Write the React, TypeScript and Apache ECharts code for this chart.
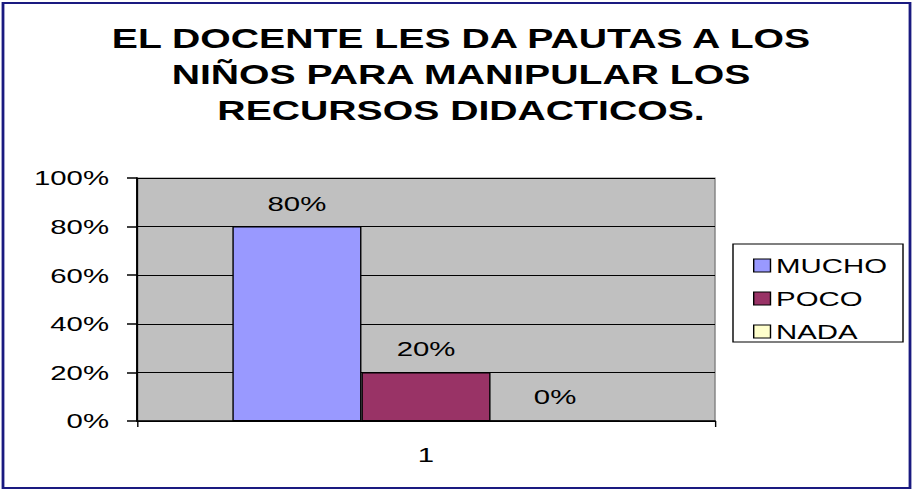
import React, { useEffect, useRef } from "react";
import * as echarts from "echarts";

const titleLines = ["EL DOCENTE LES DA PAUTAS A LOS", "NIÑOS PARA MANIPULAR LOS", "RECURSOS DIDACTICOS."];
const categories = ["1"];
const seriesNames = ["MUCHO", "POCO", "NADA"];
const seriesValues = [[80], [20], [0]];
const seriesColors = ["#9999FF", "#993366", "#FFFFCC"];

const OUT_W = 915;
const IN_W = 654;
const SX = OUT_W / IN_W;
const px = (v: number) => v / SX;

export default function App() {
  const ref = useRef<HTMLDivElement>(null);
  useEffect(() => {
    document.body.style.margin = "0";
    const chart = echarts.init(ref.current!, null, { renderer: "svg" });
    const font = "'Liberation Sans', Arial, sans-serif";
    chart.setOption({
      animation: false,
      backgroundColor: "#ffffff",
      textStyle: { fontFamily: font },
      title: {
        text: titleLines.join("\n"),
        left: px(454),
        textAlign: "center",
        top: 15,
        textStyle: { fontSize: 28, fontWeight: "bold", color: "#000", lineHeight: 36, fontFamily: font },
      },
      legend: {
        orient: "vertical",
        left: px(753),
        top: 255,
        padding: 0,
        itemWidth: 12,
        itemHeight: 13,
        itemGap: 12,
        icon: "rect",
        data: seriesNames.map((n, i) => ({ name: n, itemStyle: { color: seriesColors[i], borderColor: "#000", borderWidth: 1 } })),
        textStyle: { fontSize: 21, lineHeight: 21, color: "#000", fontFamily: font, padding: [0, 0, 0, -1] },
      },
      graphic: [
        { type: "rect", shape: { x: px(3), y: 3, width: px(907), height: 485 }, style: { fill: "none", stroke: "#1a1a80", lineWidth: 2 }, z: 100 },
        { type: "rect", shape: { x: px(733), y: 244, width: px(170), height: 98 }, style: { fill: "none", stroke: "#000", lineWidth: 1 } },
      ],
      grid: { left: px(137), right: px(200), top: 178, bottom: 72, show: true, backgroundColor: "#C0C0C0", borderColor: "#808080", borderWidth: 1 },
      xAxis: {
        type: "category",
        data: categories,
        axisLine: { lineStyle: { color: "#000", width: 1.5 } },
        axisTick: { show: true, length: 6, lineStyle: { color: "#000" } },
        axisLabel: { fontSize: 21, color: "#000", margin: 23, fontFamily: font },
      },
      yAxis: {
        type: "value",
        min: 0,
        max: 100,
        interval: 20,
        axisLine: { show: true, lineStyle: { color: "#000", width: 1.5 } },
        axisTick: { show: true, length: px(10), lineStyle: { color: "#000", width: 1.5 } },
        axisLabel: { formatter: "{value}%", fontSize: 21, color: "#000", margin: px(28), fontFamily: font },
        splitLine: { show: true, lineStyle: { color: "#000", width: 1.2 } },
      },
      series: seriesNames.map((n, i) => ({
        name: n,
        type: "bar",
        data: seriesValues[i],
        barGap: "0%",
        barCategoryGap: "33%",
        itemStyle: { color: seriesColors[i], borderColor: "#000", borderWidth: 1 },
        label: { show: true, position: "top", distance: 13, formatter: "{c}%", fontSize: 21, color: "#000", fontFamily: font },
      })),
    });
    return () => chart.dispose();
  }, []);
  return (
    <div style={{ width: OUT_W, height: 493, overflow: "hidden" }}>
      <div ref={ref} style={{ width: IN_W, height: 493, transform: `scaleX(${SX})`, transformOrigin: "0 0" }} />
    </div>
  );
}
